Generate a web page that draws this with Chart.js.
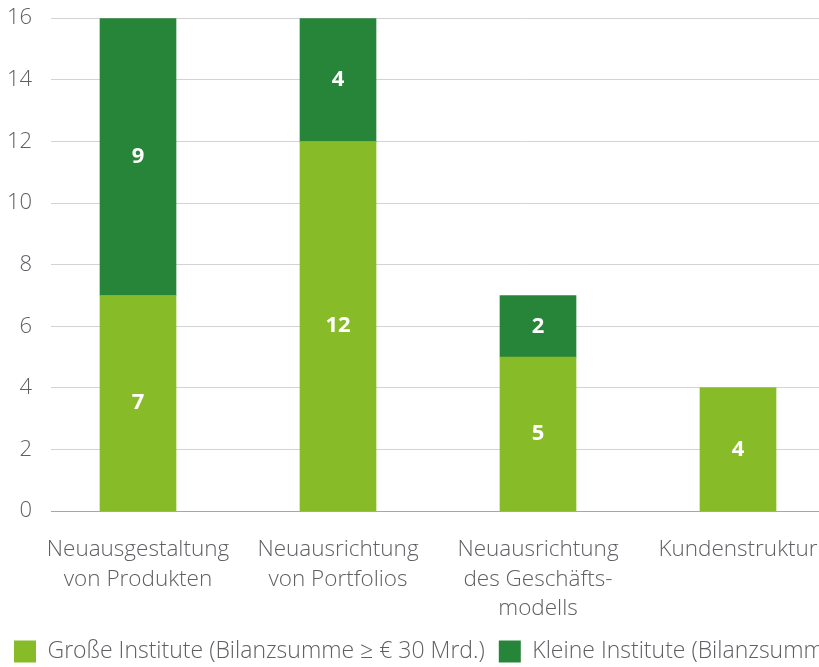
<!DOCTYPE html>
<html>
<head>
<meta charset="utf-8">
<script src="https://cdn.jsdelivr.net/npm/chart.js@4"></script>
<style>
  html, body { margin: 0; padding: 0; overflow: hidden; background: #fff; }
  #wrap { width: 1000px; height: 687px; position: absolute; left: 0; top: -14px; }
</style>
</head>
<body>
<div id="wrap"><canvas id="chart"></canvas></div>
<script>
const categories = [
  ["Neuausgestaltung", "von Produkten"],
  ["Neuausrichtung", "von Portfolios"],
  ["Neuausrichtung", "des Geschäfts-", "modells"],
  ["Kundenstruktur"],
];
const largeInstitutes = [7, 12, 5, 4];
const smallInstitutes = [9, 4, 2, 0];
const yTicks = [0, 2, 4, 6, 8, 10, 12, 14, 16];

const textGray = "#5f6064";
const lightGreen = "#88bb28";
const darkGreen = "#27853a";

// white numbers in the middle of every segment
const segmentLabels = {
  id: "segmentLabels",
  afterDatasetsDraw(chart) {
    const ctx = chart.ctx;
    ctx.save();
    ctx.fillStyle = "#fff";
    ctx.font = "bold 22px 'Open Sans'";
    ctx.textAlign = "center";
    ctx.textBaseline = "middle";
    chart.data.datasets.forEach((ds, di) => {
      chart.getDatasetMeta(di).data.forEach((bar, i) => {
        const v = ds.data[i].y;
        if (!v) return;
        ctx.fillText(String(v), bar.x, (bar.y + bar.base) / 2);
      });
    });
    ctx.restore();
  },
};

Chart.defaults.font.family = "'Open Sans', sans-serif";
Chart.defaults.font.weight = 300;
Chart.defaults.color = textGray;

new Chart(document.getElementById("chart").getContext("2d"), {
  type: "bar",
  data: {
    datasets: [
      {
        label: "Große Institute (Bilanzsumme ≥ € 30 Mrd.)",
        data: largeInstitutes.map((v, i) => ({ x: i, y: v })),
        backgroundColor: lightGreen,
        barThickness: 76,
      },
      {
        label: "Kleine Institute (Bilanzsumme < € 30 Mrd.)",
        data: smallInstitutes.map((v, i) => ({ x: i, y: v })),
        backgroundColor: darkGreen,
        barThickness: 76,
      },
    ],
  },
  options: {
    responsive: true,
    maintainAspectRatio: false,
    animation: false,
    layout: { padding: 0 },
    plugins: {
      tooltip: { enabled: false },
      legend: {
        position: "bottom",
        align: "start",
        labels: {
          boxWidth: 22,
          boxHeight: 22,
          padding: 14,
          font: { size: 23, weight: 300 },
          color: textGray,
        },
      },
    },
    scales: {
      x: {
        type: "linear",
        stacked: true,
        offset: false,
        min: -0.435,
        max: 4.31,
        grid: { display: false },
        border: { color: "#a6a6a6", width: 1 },
        afterBuildTicks: (scale) => {
          scale.ticks = categories.map((c, i) => ({ value: i }));
        },
        afterFit: (scale) => {
          scale.height = scale.height - 13;
        },
        ticks: {
          autoSkip: false,
          maxRotation: 0,
          padding: 15,
          font: { size: 22.5, weight: 300, lineHeight: 1.33 },
          callback: (v) => categories[v],
        },
      },
      y: {
        stacked: true,
        min: 0,
        max: 16,
        afterBuildTicks: (scale) => {
          scale.ticks = yTicks.map((v) => ({ value: v }));
        },
        afterFit: (scale) => {
          scale.width = 51;
        },
        grid: { color: "#d3d3d3", drawTicks: false },
        border: { display: false },
        ticks: {
          padding: 19,
          font: { size: 22, weight: 300 },
        },
      },
    },
  },
  plugins: [segmentLabels],
});
</script>
</body>
</html>
